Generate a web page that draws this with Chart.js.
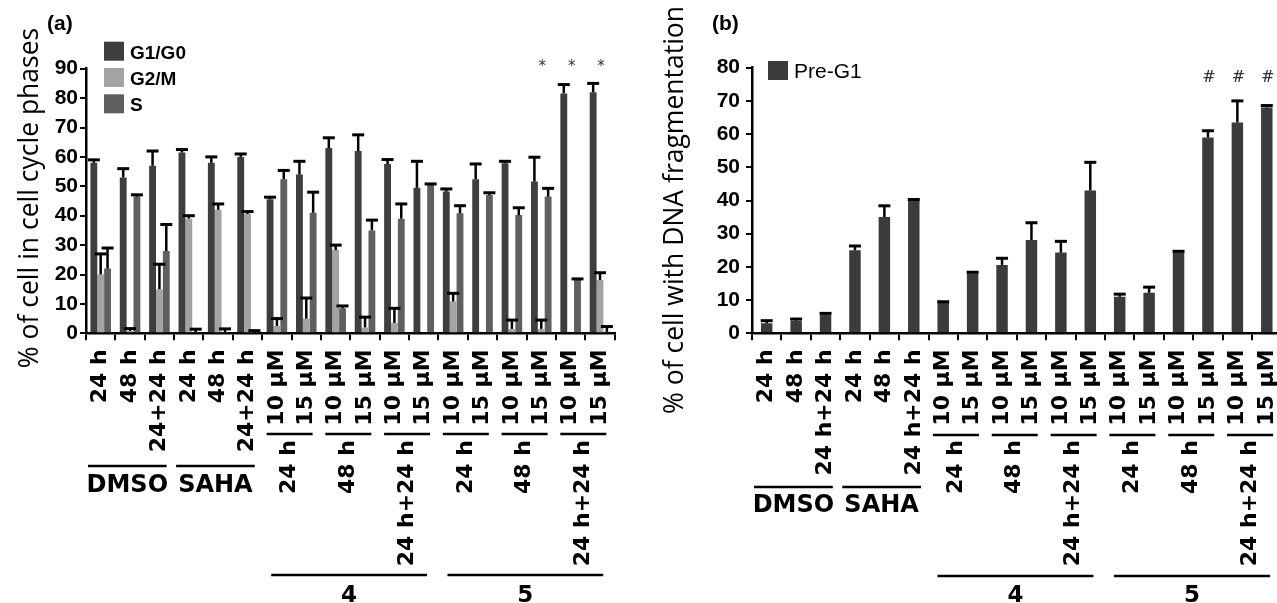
<!DOCTYPE html>
<html>
<head>
<meta charset="utf-8">
<script src="https://cdn.jsdelivr.net/npm/chart.js@4.4.1/dist/chart.umd.min.js"></script>
<style>
  html, body { margin: 0; padding: 0; background: #fff; overflow: hidden; width: 1277px; height: 603px; }
  #wrapA { position: absolute; left: 0; top: 0; width: 640px; height: 603px; }
  #wrapB { position: absolute; left: 640px; top: 0; width: 670px; height: 603px; }
</style>
</head>
<body>
<div id="wrapA"><canvas id="chartA" width="640" height="603"></canvas></div>
<div id="wrapB"><canvas id="chartB" width="670" height="603"></canvas></div>
<script>
// ================= DATA =================
const labelsA = ["24 h", "48 h", "24+24 h", "24 h", "48 h", "24+24 h",
    "10 µM", "15 µM", "10 µM", "15 µM", "10 µM", "15 µM",
    "10 µM", "15 µM", "10 µM", "15 µM", "10 µM", "15 µM"];
const labelsB = ["24 h", "48 h", "24 h+24 h", "24 h", "48 h", "24 h+24 h",
    "10 µM", "15 µM", "10 µM", "15 µM", "10 µM", "15 µM",
    "10 µM", "15 µM", "10 µM", "15 µM", "10 µM", "15 µM"];

const g1Values = [58, 53, 57, 61.5, 58, 60, 45.6, 54, 63, 62, 57.6, 49.5, 48.2, 52.4, 57.8, 51.6, 81.6, 82];
const g1Errors = [1, 3, 5, 1, 2, 1, 0.7, 4.5, 3.5, 5.5, 1.5, 9, 0.9, 5.2, 0.7, 8.3, 3, 3];
const g2mValues = [20, 0.8, 15, 39, 42, 40.6, 2.5, 5, 28.3, 2, 3.5, 0, 10.8, 0, 1.5, 1.5, 0, 18.1];
const g2mErrors = [7, 0.8, 8.5, 1, 2, 0.8, 2.5, 7, 1.7, 3.5, 5, 0, 2.8, 0, 3, 3, 0, 2.5];
const sValues = [22, 46.5, 28, 0.3, 0.3, 0.2, 52.4, 41, 8.5, 35, 39, 50.4, 40.8, 47, 40.2, 46.5, 18.1, 0.5];
const sErrors = [7, 0.6, 9, 1.1, 1.2, 0.7, 3, 7, 0.8, 3.5, 5, 0.4, 2.6, 0.8, 2.5, 2.8, 0.4, 1.8];

const preG1Values = [3.0, 3.8, 5.5, 25, 35, 40, 9.2, 18.1, 20.6, 28.1, 24.3, 43, 11, 12.2, 24.4, 59, 63.5, 68];
const preG1Errors = [0.8, 0.5, 0.5, 1.3, 3.4, 0.3, 0.3, 0.3, 2, 5.2, 3.4, 8.5, 0.8, 1.7, 0.3, 2, 6.5, 0.6];

const treatments = ["DMSO", "SAHA"];
const compoundTimes = ["24 h", "48 h", "24 h+24 h"];
const compounds = ["4", "5"];
const starredA = [15, 16, 17];
const hashedB = [15, 16, 17];

// ================= PLUGINS =================

const errorBars = {
    id: "errorBars",
    afterDatasetsDraw(chart, args, opts) {
        const ctx = chart.ctx;
        const y = chart.scales.y;
        chart.data.datasets.forEach((ds, di) => {
            const meta = chart.getDatasetMeta(di);
            meta.data.forEach((bar, i) => {
                const err = ds.errors[i];
                if (!err) return;
                const top = y.getPixelForValue(ds.data[i] + err);
                ctx.save();
                ctx.strokeStyle = "#000";
                ctx.lineWidth = opts.stem;
                ctx.beginPath();
                ctx.moveTo(bar.x, bar.y);
                ctx.lineTo(bar.x, top);
                ctx.stroke();
                ctx.lineWidth = opts.capThick;
                ctx.beginPath();
                ctx.moveTo(bar.x - opts.cap / 2, top);
                ctx.lineTo(bar.x + opts.cap / 2, top);
                ctx.stroke();
                ctx.restore();
            });
        });
    }
};

function hLine(ctx, x1, x2, y) {
    ctx.beginPath();
    ctx.moveTo(x1, y);
    ctx.lineTo(x2, y);
    ctx.stroke();
}

function vText(ctx, text, x, y, align) {
    ctx.save();
    ctx.translate(x, y);
    ctx.rotate(-Math.PI / 2);
    ctx.textAlign = align;
    ctx.textBaseline = "middle";
    ctx.fillText(text, 0, 0);
    ctx.restore();
}

const panelText = {
    id: "panelText",
    afterDraw(chart, args, o) {
        const ctx = chart.ctx;
        const x = chart.scales.x;
        const w = x.getPixelForValue(1) - x.getPixelForValue(0);
        const cx = i => x.getPixelForValue(i);
        ctx.save();
        ctx.fillStyle = "#000";
        ctx.strokeStyle = "#000";

        // panel letter
        ctx.font = 'bold 21px "Liberation Sans"';
        ctx.textAlign = "left";
        ctx.textBaseline = "alphabetic";
        ctx.fillText(o.letter, o.letterX, o.letterY);

        // axis title
        ctx.font = '26.5px "Open Sans"';
        vText(ctx, o.title, o.titleX, o.titleY, "center");

        // legend
        chart.data.datasets.forEach((ds, i) => {
            const top = o.legend.y + i * o.legend.gap;
            ctx.fillStyle = ds.backgroundColor;
            ctx.fillRect(o.legend.x, top, 20, 19);
            ctx.fillStyle = "#000";
            ctx.font = o.legend.font;
            ctx.textAlign = "left";
            ctx.fillText(ds.label, o.legend.x + 26, top + 17);
        });

        // DMSO / SAHA
        ctx.lineWidth = 2.5;
        ctx.font = 'bold 24px "DejaVu Sans"';
        ctx.textAlign = "center";
        treatments.forEach((t, k) => {
            const x1 = cx(k * 3) - w / 2 + 2;
            const x2 = cx(k * 3 + 2) + w / 2 - 7.5;
            hLine(ctx, x1, x2, o.treatLineY);
            ctx.fillText(t, (x1 + x2) / 2, o.treatTextY);
        });

        // compound times and compounds
        ctx.font = 'bold 22px "DejaVu Sans"';
        compounds.forEach((c, ci) => {
            compoundTimes.forEach((t, j) => {
                const p = 6 + ci * 6 + j * 2;
                const mid = (cx(p) + cx(p + 1)) / 2 - 2;
                hLine(ctx, mid - 23, mid + 23, o.timeLineY);
                vText(ctx, t, mid, o.timeTextY, "right");
            });
            const x1 = cx(6 + ci * 6) - w / 2 + 9;
            const x2 = cx(11 + ci * 6) + w / 2 - 11.5;
            hLine(ctx, x1, x2, o.compLineY);
            ctx.font = 'bold 23px "DejaVu Sans"';
            ctx.textAlign = "center";
            ctx.fillText(c, (x1 + x2) / 2, o.compTextY);
            ctx.font = 'bold 22px "DejaVu Sans"';
        });

        // significance marks
        ctx.font = o.marks.font;
        ctx.fillStyle = "#333";
        ctx.textAlign = "center";
        o.marks.idx.forEach(i => ctx.fillText(o.marks.text, cx(i) + 1, o.marks.y));
        ctx.restore();
    }
};

// ================= CHARTS =================

function makeOptions(o) {
    return {
        responsive: false,
        animation: false,
        layout: { padding: { top: o.top, right: o.right, left: 0, bottom: 0 } },
        plugins: {
            legend: { display: false },
            tooltip: { enabled: false },
            errorBars: { stem: 2.5, cap: 12, capThick: 3 },
            panelText: o.text
        },
        scales: {
            x: {
                grid: { offset: true, drawOnChartArea: false, color: "#000", lineWidth: 2, tickLength: 7 },
                border: { color: "#000", width: 2.5 },
                ticks: {
                    autoSkip: false, minRotation: 90, maxRotation: 90, padding: 9, color: "#000",
                    font: { family: "DejaVu Sans", weight: "bold", size: 22 }
                },
                afterFit: s => { s.height = 603 - 333.3; }
            },
            y: {
                min: 0,
                max: o.max,
                ticks: {
                    stepSize: 10, padding: o.tickPad, color: "#000",
                    font: { family: "Liberation Sans", weight: "bold", size: 21 }
                },
                grid: { drawOnChartArea: false, color: "#000", lineWidth: 2, tickLength: 6 },
                border: { color: "#000", width: 2.5 },
                afterFit: s => { s.width = o.left; }
            }
        }
    };
}

new Chart(document.getElementById("chartA"), {
    type: "bar",
    data: {
        labels: labelsA,
        datasets: [
            { label: "G1/G0", data: g1Values, errors: g1Errors, backgroundColor: "#3e3e3e", categoryPercentage: 0.7, barPercentage: 1 },
            { label: "G2/M", data: g2mValues, errors: g2mErrors, backgroundColor: "#a3a3a3", categoryPercentage: 0.7, barPercentage: 1 },
            { label: "S", data: sValues, errors: sErrors, backgroundColor: "#5f5f5f", categoryPercentage: 0.7, barPercentage: 1 }
        ]
    },
    options: makeOptions({
        top: 68.7, right: 640 - 614.7, left: 86, max: 90, tickPad: 2,
        text: {
            letter: "(a)", letterX: 47, letterY: 30,
            title: "% of cell in cell cycle phases", titleX: 30, titleY: 198,
            legend: { x: 104, y: 41.7, gap: 26.3, font: 'bold 19px "Liberation Sans"' },
            treatLineY: 466, treatTextY: 492,
            timeLineY: 434, timeTextY: 440,
            compLineY: 575, compTextY: 602,
            marks: { idx: starredA, text: "*", y: 71, font: '15px "DejaVu Sans"' }
        }
    }),
    plugins: [errorBars, panelText]
});

new Chart(document.getElementById("chartB"), {
    type: "bar",
    data: {
        labels: labelsB,
        datasets: [
            { label: "Pre-G1", data: preG1Values, errors: preG1Errors, backgroundColor: "#3b3b3b", categoryPercentage: 0.39, barPercentage: 1 }
        ]
    },
    options: makeOptions({
        top: 67.7, right: 670 - 641.5, left: 112, max: 80, tickPad: 6,
        text: {
            letter: "(b)", letterX: 72, letterY: 30,
            title: "% of cell with DNA fragmentation", titleX: 35, titleY: 210,
            legend: { x: 128, y: 61, gap: 26, font: '21px "Liberation Sans"' },
            treatLineY: 487, treatTextY: 512,
            timeLineY: 435, timeTextY: 440,
            compLineY: 576, compTextY: 602,
            marks: { idx: hashedB, text: "#", y: 82, font: '16px "DejaVu Serif"' }
        }
    }),
    plugins: [errorBars, panelText]
});
</script>
</body>
</html>
